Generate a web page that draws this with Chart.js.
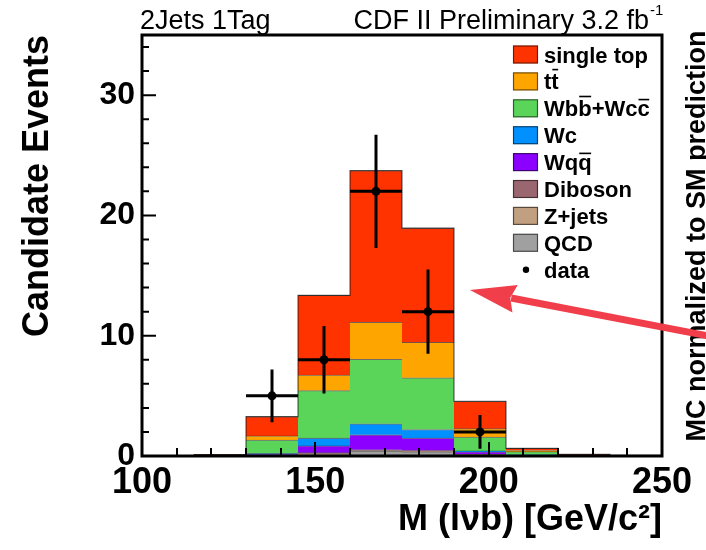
<!DOCTYPE html>
<html><head><meta charset="utf-8">
<script src="https://cdn.jsdelivr.net/npm/chart.js@4.4.1/dist/chart.umd.min.js"></script>
<style>html,body{margin:0;padding:0;background:#fff;}</style>
</head><body>
<canvas id="c" width="706" height="550"></canvas>
<script>
// ---- data ----
const binEdges   = [100,115,130,145,160,175,190,205,220,235,250];
const binCenters = [107.5,122.5,137.5,152.5,167.5,182.5,197.5,212.5,227.5,242.5];
const qcd       = [0,0,0,0.10,0.40,0.35,0.05,0,0,0];
const zjets     = [0,0.02,0.05,0.08,0.05,0.05,0.05,0.02,0,0];
const diboson   = [0,0,0.02,0.10,0.06,0.05,0.03,0.02,0,0];
const wqq       = [0,0.02,0.05,0.56,1.25,1.05,0.22,0.04,0.01,0];
const wc        = [0,0.02,0.10,0.64,0.92,0.70,0.07,0.02,0.01,0];
const wbb       = [0,0.04,1.10,3.96,5.36,4.30,1.15,0.26,0.05,0.02];
const ttbar     = [0,0.01,0.35,1.29,3.07,2.94,0.70,0.10,0.03,0.01];
const singleTop = [0,0.01,1.60,6.62,12.62,9.50,2.28,0.18,0.04,0.02];
const dataX   = [137.5,152.5,167.5,182.5,197.5];
const dataY   = [5,8,22,12,2];
const dataErr = [2.2,2.8,4.7,3.5,1.4];
const xTickLabels = [100,150,200,250];
const yTickLabels = [0,10,20,30];
const seriesNames = ['QCD','Z+jets','Diboson','Wq#bar{q}','Wc','Wb#bar{b}+Wc#bar{c}','t#bar{t}','single top'];
const seriesValues = [qcd, zjets, diboson, wqq, wc, wbb, ttbar, singleTop];
const seriesColors = ['#a0a0a0','#c0a080','#9a6670','#8c00ff','#0090ff','#5ad55a','#ffa500','#ff3300'];

const FONT = "'Liberation Sans', Arial, sans-serif";

// ---- datasets ----
const datasets = seriesNames.map((name, k) => ({
  type: 'bar', label: name, swatch: true,
  data: binCenters.map((c, i) => ({x: c, y: seriesValues[k][i]})),
  backgroundColor: seriesColors[k],
  borderColor: 'rgba(0,0,0,0.55)',
  borderWidth: {top: 1, left: 0, right: 0, bottom: 0},
  borderSkipped: false,
  barPercentage: 1, categoryPercentage: 1,
  stack: 'mc', xAxisID: 'x', yAxisID: 'y', order: 10
}));
const totals = binCenters.map((c, i) => seriesValues.reduce((s, a) => s + a[i], 0));
datasets.push({
  type: 'line', label: 'outline',
  data: binEdges.map((e, i) => ({x: e, y: totals[Math.min(i, totals.length - 1)]})),
  stepped: true, borderColor: 'rgba(0,0,0,0.6)', borderWidth: 1.2, pointRadius: 0, fill: false,
  xAxisID: 'x', yAxisID: 'yd', order: 5
});
const errV = [], errH = [];
dataX.forEach((x, i) => {
  const k = binCenters.indexOf(x);
  errV.push({x: x, y: dataY[i] - dataErr[i]}, {x: x, y: dataY[i] + dataErr[i]}, {x: x, y: null});
  errH.push({x: binEdges[k], y: dataY[i]}, {x: binEdges[k + 1], y: dataY[i]}, {x: binEdges[k + 1], y: null});
});
datasets.push({type: 'line', label: 'errV', data: errV, borderColor: '#000', borderWidth: 3, pointRadius: 0, spanGaps: false, fill: false, xAxisID: 'x', yAxisID: 'yd', order: 2});
datasets.push({type: 'line', label: 'errH', data: errH, borderColor: '#000', borderWidth: 3, pointRadius: 0, spanGaps: false, fill: false, xAxisID: 'x', yAxisID: 'yd', order: 2});
datasets.push({type: 'line', label: 'data', data: dataX.map((x, i) => ({x: x, y: dataY[i]})), showLine: false,
  pointRadius: 4.5, pointBackgroundColor: '#000', pointBorderWidth: 0, xAxisID: 'x', yAxisID: 'yd', order: 1});

// ---- helpers ----
function drawRich(ctx, str, x, y, size) {
  const parts = str.split(/(#bar\{[^}]*\})/).filter(s => s.length);
  let cx = x;
  parts.forEach(p => {
    const m = p.match(/^#bar\{([^}]*)\}$/);
    const t = m ? m[1] : p;
    ctx.fillText(t, cx, y);
    const w = ctx.measureText(t).width;
    if (m) {
      const tall = /[bdfhklt]/.test(t);
      const oy = y - size * (tall ? 0.9 : 0.76);
      ctx.save(); ctx.lineWidth = 1.6; ctx.strokeStyle = '#000';
      ctx.beginPath(); ctx.moveTo(cx + 1, oy); ctx.lineTo(cx + w - 0.5, oy); ctx.stroke();
      ctx.restore();
    }
    cx += w;
  });
}

const decor = {
  id: 'decor',
  afterDatasetsDraw(chart) {
    const {ctx, chartArea: a, scales} = chart;
    const xs = scales.x, ys = scales.y;
    ctx.save();
    ctx.strokeStyle = '#000'; ctx.lineWidth = 2;
    ctx.beginPath();
    for (let v = xs.min; v <= xs.max + 1e-9; v += 10) {
      const px = Math.round(xs.getPixelForValue(v));
      const len = xTickLabels.includes(v) ? 14 : 8;
      ctx.moveTo(px, a.bottom); ctx.lineTo(px, a.bottom - len);
    }
    for (let v = ys.min; v <= ys.max + 1e-9; v += 2) {
      const py = ys.getPixelForValue(v);
      const len = yTickLabels.includes(v) ? 14 : 7;
      ctx.moveTo(a.left, py); ctx.lineTo(a.left + len, py);
    }
    ctx.stroke();
    ctx.lineWidth = 3;
    ctx.strokeRect(a.left, a.top, a.right - a.left, a.bottom - a.top);
    ctx.restore();
  },
  afterDraw(chart) {
    const {ctx, scales} = chart;
    const xs = scales.x, ys = scales.y;
    ctx.save();
    ctx.fillStyle = '#000';
    // header texts
    ctx.font = '27px ' + FONT; ctx.textBaseline = 'alphabetic';
    ctx.textAlign = 'left'; ctx.fillText('2Jets 1Tag', 140, 29);
    ctx.textAlign = 'right'; ctx.fillText('CDF II Preliminary 3.2 fb', 649, 29);
    ctx.font = '15px ' + FONT; ctx.textAlign = 'left'; ctx.fillText('-1', 650, 15);
    // legend
    const sw = chart.data.datasets.filter(d => d.swatch).slice().reverse();
    const x0 = 513, y0 = 54.5, dy = 26.9, fs = 22;
    ctx.font = 'bold ' + fs + 'px ' + FONT; ctx.textAlign = 'left'; ctx.textBaseline = 'alphabetic';
    sw.forEach((d, i) => {
      const cy = y0 + i * dy;
      ctx.fillStyle = d.backgroundColor; ctx.fillRect(x0, cy - 9, 25, 18);
      ctx.strokeStyle = 'rgba(0,0,0,0.55)'; ctx.lineWidth = 1.2; ctx.strokeRect(x0 + 0.5, cy - 8.5, 24, 17);
      ctx.fillStyle = '#000';
      drawRich(ctx, d.label, 544, cy + 8, fs);
    });
    const cyd = y0 + sw.length * dy;
    ctx.beginPath(); ctx.arc(526, cyd, 3.2, 0, Math.PI * 2); ctx.fill();
    ctx.fillText('data', 544, cyd + 8);
    // right vertical text
    ctx.save();
    ctx.translate(705, 236); ctx.rotate(-Math.PI / 2);
    ctx.font = 'bold 27px ' + FONT; ctx.textAlign = 'center'; ctx.textBaseline = 'alphabetic';
    ctx.fillText('MC normalized to SM prediction', 0, 0);
    ctx.restore();
    // arrow (anchored in data coordinates)
    const tx = xs.getPixelForValue(194.6), ty = ys.getPixelForValue(13.8);
    const sx = xs.getPixelForValue(263), sy = ys.getPixelForValue(10.0);
    const L = Math.hypot(sx - tx, sy - ty), ux = (sx - tx) / L, uy = (sy - ty) / L;
    const nx = -uy, ny = ux, hl = 46, hw = 14;
    const bx = tx + ux * hl, by = ty + uy * hl;
    ctx.fillStyle = 'rgb(240,62,74)'; ctx.strokeStyle = 'rgb(240,62,74)';
    ctx.lineWidth = 7; ctx.lineCap = 'butt';
    ctx.beginPath(); ctx.moveTo(bx - ux * 4, by - uy * 4); ctx.lineTo(sx, sy); ctx.stroke();
    ctx.beginPath(); ctx.moveTo(tx, ty); ctx.lineTo(bx + nx * hw, by + ny * hw); ctx.lineTo(bx - ux * 5, by - uy * 5); ctx.lineTo(bx - nx * hw, by - ny * hw); ctx.closePath(); ctx.fill();
    ctx.restore();
  }
};

new Chart(document.getElementById('c'), {
  data: {datasets},
  options: {
    responsive: false, animation: false, devicePixelRatio: 1,
    layout: {padding: {left: 0, right: 44, top: 35, bottom: 0}},
    plugins: {legend: {display: false}, tooltip: {enabled: false}},
    scales: {
      x: {
        type: 'linear', min: 100, max: 250, position: 'bottom', offset: false,
        grid: {display: false, drawTicks: false, offset: false}, border: {display: false},
        ticks: {stepSize: 50, autoSkip: false, maxRotation: 0, padding: 5, color: '#000',
          font: {family: FONT, size: 36, weight: 'bold'},
          callback: v => xTickLabels.includes(v) ? String(v) : ''},
        title: {display: true, text: 'M (lνb) [GeV/c²]', align: 'end', color: '#000',
          font: {family: FONT, size: 36, weight: 'bold', lineHeight: 1}, padding: {top: 0, bottom: 12}},
        afterFit: s => { s.height = 94; }
      },
      y: {
        type: 'linear', min: 0, max: 35, stacked: true, position: 'left',
        grid: {display: false, drawTicks: false}, border: {display: false},
        ticks: {stepSize: 10, includeBounds: false, padding: 7, color: '#000',
          font: {family: FONT, size: 32, weight: 'bold'},
          callback: v => yTickLabels.includes(v) ? String(v) : ''},
        title: {display: true, text: 'Candidate Events', align: 'end', color: '#000',
          font: {family: FONT, size: 36, weight: 'bold', lineHeight: 1}, padding: {top: 20, bottom: 0}},
        afterFit: s => { s.width = 142; }
      },
      yd: {type: 'linear', min: 0, max: 35, stacked: false, display: false}
    }
  },
  plugins: [decor]
});
</script>
</body></html>
